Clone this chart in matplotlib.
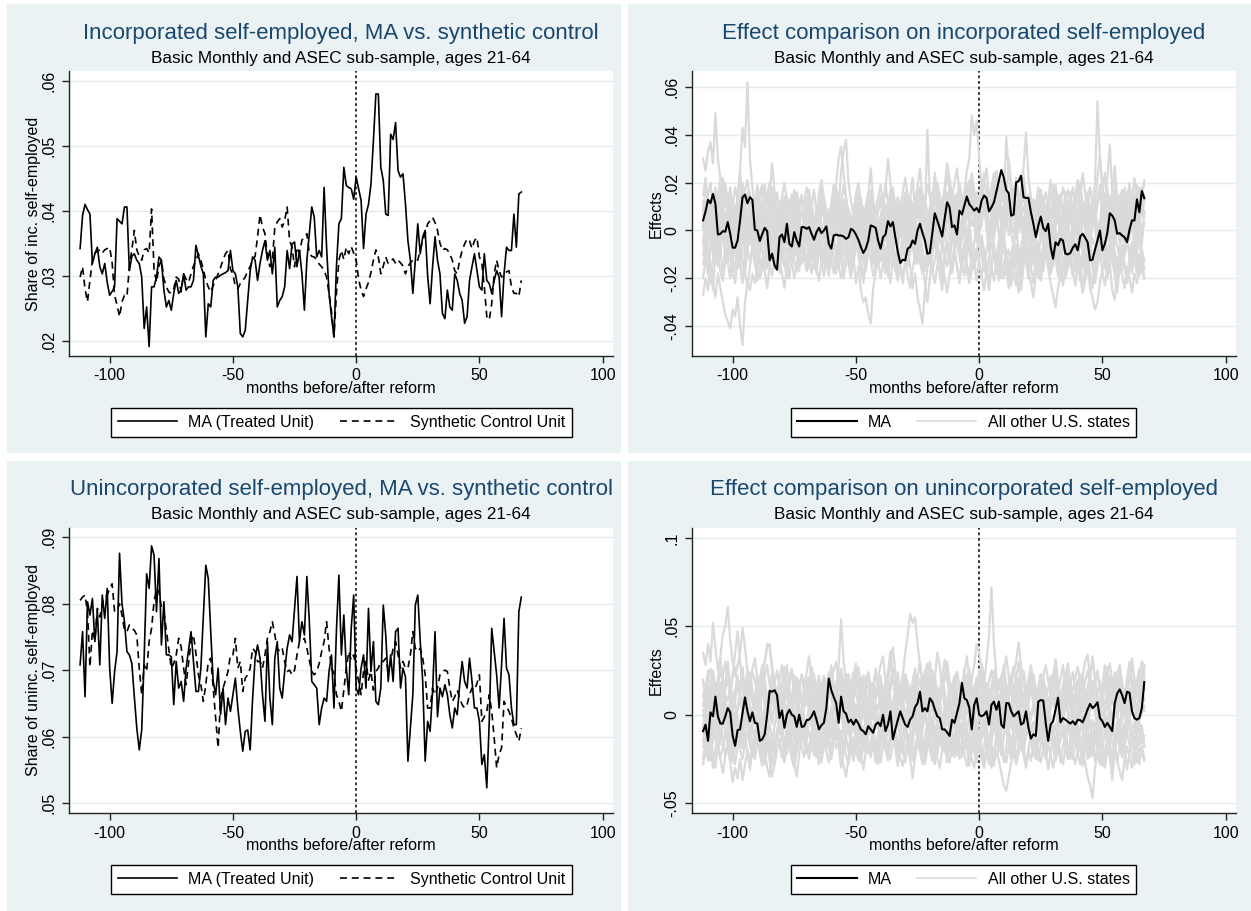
import numpy as np
import matplotlib.pyplot as plt
from matplotlib.patches import Rectangle
from matplotlib.lines import Line2D

plt.rcParams['font.family'] = ['Liberation Sans', 'DejaVu Sans']
plt.rcParams['lines.scale_dashes'] = False

months = np.arange(-112, 68)

# all values in thousandths (share * 1000)
inc_ma = [34.2, 39.3, 41, 40.2, 39.5, 31.9, 33.4, 34.4, 31.4, 30.3,
          31.9, 29, 27, 27.6, 28.3, 38.8, 38.4, 38, 40.6, 40.6,
          30.8, 33, 33.4, 32.4, 31.9, 29.8, 21.9, 25.2, 19.1, 28.3,
          28.3, 29.8, 32.9, 32.4, 27.8, 25.2, 26.2, 24.7, 27.3, 29.3,
          27.3, 27.8, 30.3, 27.8, 28.3, 28.3, 29.3, 34.7, 33.1, 31.5,
          30.3, 20.6, 25.7, 25.2, 29.3, 29.8, 29.8, 30.1, 30.3, 30.5,
          30.8, 33.9, 30.8, 30.3, 28.3, 21.1, 20.6, 21.6, 26.2, 30.8,
          32.9, 32.4, 29.3, 31.9, 33.9, 35.4, 32.4, 33.9, 30.3, 34.4,
          25.2, 26.2, 26.8, 28.3, 33.9, 31.1, 34.9, 35.2, 31.4, 33.9,
          30.3, 24.7, 32.4, 36.5, 40.6, 39, 32.9, 33.9, 32.9, 43.6,
          34.4, 27.3, 23.7, 20.6, 31.4, 38, 38.8, 46.7, 43.9, 43.6,
          43.4, 41.8, 45.2, 43.4, 41.6, 34.2, 39.5, 41, 44.1, 50.8,
          58, 58, 46.7, 44.7, 39.5, 39.3, 51.8, 51, 53.6, 46.2,
          45.2, 45.7, 41.1, 35.4, 32.4, 27.3, 32.4, 38, 33.4, 36,
          37, 30, 25.7, 31.4, 36, 32.4, 30.3, 24.2, 23.4, 27.8,
          25.2, 24.7, 30.3, 29.3, 27.3, 26.2, 22.7, 23.7, 29.3, 31.4,
          33.4, 30.8, 28.3, 27.8, 33.4, 29.3, 28.8, 27.3, 29.3, 30.8,
          29.8, 23.7, 30.3, 34.4, 33.9, 33.9, 39.5, 34.4, 42.6, 42.9]

inc_synth = [29.8, 31.4, 28, 26, 29.3, 32.4, 33.5, 33.8, 34, 33.5,
             34, 34.2, 34.4, 32, 27, 25.5, 23.7, 26, 27, 26.8,
             31.4, 34, 37, 34, 33, 32.4, 34, 34.2, 33.5, 40.3,
             31, 29, 31.5, 32.4, 29.5, 28.3, 27.5, 27.3, 28, 29.8,
             29.5, 27.5, 30.3, 29.5, 29, 30.3, 31.5, 32.4, 33.4, 32.4,
             31, 29.3, 28.3, 27.5, 28.5, 29.3, 30.3, 31.3, 32.5, 33.4,
             33.9, 31, 30.3, 28.3, 28, 28.8, 29.3, 29.8, 30.8, 31.4,
             32.5, 33, 36, 39.4, 37.5, 36.5, 33, 31.4, 32.4, 37.5,
             38.3, 38.8, 37.5, 38.5, 40.6, 35.4, 34.4, 31.4, 34.4, 33.5,
             35.5, 35.9, 36.5, 33.5, 33, 32.9, 32.4, 31.8, 31.4, 30.8,
             29.8, 27.3, 24.5, 20.6, 27.3, 32.4, 33.9, 32.5, 34.4, 33.4,
             34.5, 33.5, 32.4, 29.5, 27.8, 26.8, 28, 29, 30.5, 32.4,
             34, 32.9, 30.3, 31.5, 32.9, 31.9, 32.3, 32.6, 31.9, 32.4,
             32, 31.5, 30.3, 31.4, 32, 32.4, 32.6, 32.4, 34, 35.4,
             36.5, 38, 38.5, 39, 38.2, 37, 35, 33.9, 34.2, 34,
             33.4, 32.4, 30.8, 30.3, 32.4, 33.9, 34.9, 35.7, 35.4, 34.2,
             35.4, 35.9, 32.9, 31.9, 28.3, 23.7, 23.2, 25.7, 30.3, 32.4,
             30.8, 29.8, 30.3, 30.6, 30.8, 28.3, 27.3, 27.3, 26.8, 29.3]

uninc_ma = [70.8, 75.8, 66, 80.3, 78.3, 80.8, 74.3, 78.8, 70.8, 81.3,
            77.8, 82.3, 70.3, 65, 69.8, 72.8, 87.6, 80, 77.3, 72.8,
            72.3, 71, 66, 61.3, 58, 61, 72, 84.5, 82.3, 88.7,
            87.3, 78.8, 86.8, 73.8, 80.3, 72.3, 72.3, 72, 64.8, 71.3,
            67.3, 68.3, 65.3, 70.3, 73, 75.8, 71.3, 66.8, 66.8, 70.3,
            78, 85.8, 83.8, 75.8, 68.3, 66.3, 70.3, 63.3, 67.3, 61.8,
            65.8, 63.8, 66.3, 68.8, 64.3, 60.8, 57.8, 60.8, 61, 58,
            65.8, 71.8, 73.8, 71.8, 66.3, 62.3, 74.3, 65.8, 61.8, 71.8,
            74.3, 67.3, 65.8, 69.8, 73.3, 75.3, 74.3, 79.3, 84.1, 74.3,
            77.3, 75.3, 84.1, 77.3, 68.3, 67.8, 67.3, 61.8, 64.3, 65.8,
            65.3, 69.8, 72.3, 64.3, 76, 84.3, 72.3, 78.3, 70.3, 66.3,
            76.3, 81.3, 67.3, 66.3, 70.3, 72.3, 67.3, 79.3, 69.8, 74.3,
            65.3, 64.8, 67.3, 79.8, 75.3, 68.3, 72.3, 68.3, 75.8, 76.3,
            67.3, 70.3, 69, 56.3, 61.3, 66.3, 79.8, 81.3, 74.3, 68.3,
            56.3, 62.3, 60.8, 66.8, 75.8, 63, 67.3, 66, 67.8, 66.3,
            63.3, 61.3, 64.3, 63.3, 67.8, 71.3, 68.3, 67.3, 71.8, 68.3,
            64.3, 64.3, 62.3, 55.8, 57.3, 52.3, 62.3, 76.3, 72.8, 69.3,
            64.3, 70.8, 77.8, 70.3, 69.3, 64.3, 61.8, 61.8, 78.8, 81]

uninc_synth = [80.5, 81, 81.3, 78.8, 70.5, 76, 74.5, 79.3, 78, 80,
               81, 81.3, 82.3, 83, 78.8, 79, 80, 78.3, 76, 75.8,
               76.8, 76.3, 76, 75.3, 70.3, 66.3, 70.8, 69.8, 74.3, 76.3,
               80.3, 82.3, 81.8, 79.5, 78.8, 76, 73.3, 70.3, 71, 72.3,
               74.8, 73.5, 70.3, 67.8, 71, 74.3, 75.3, 72.5, 69.3, 67.8,
               65.3, 67.8, 71.3, 71.8, 67.3, 63, 58.3, 65.8, 67.3, 68.5,
               69.8, 72.3, 72.3, 74.8, 70.3, 71.3, 66.8, 68.8, 69.3, 70.3,
               73.3, 72.8, 71.3, 71.3, 70.3, 72.3, 74.8, 75.8, 77.3, 75.3,
               73.3, 72.8, 73.3, 71.3, 69.8, 70, 69.3, 70, 72.3, 74.3,
               74.3, 74.8, 73.3, 71.5, 69.8, 69.3, 69.8, 71, 72.8, 74.3,
               77.3, 73.3, 70.3, 69.5, 66.3, 65.3, 63.8, 67, 70.3, 72.8,
               71.5, 72.3, 70.3, 68.3, 66.3, 69.8, 71.3, 68.5, 69.8, 67,
               69.8, 70.3, 71.3, 71.3, 71.8, 69.8, 71.3, 73.3, 74.3, 72.3,
               70.3, 71.3, 70.3, 70.3, 72.3, 75.8, 73.3, 72.8, 73.3, 71.8,
               69.3, 64.3, 64.3, 67.3, 66.3, 67.3, 69.3, 69.8, 70, 69.8,
               67.3, 65.3, 66, 67, 65.8, 64.8, 64.3, 64.8, 66.3, 67.3,
               67, 68, 69.3, 62.3, 63, 63.8, 66.3, 63.8, 59.8, 55.3,
               57.3, 58.3, 65.3, 64.5, 63.8, 62.8, 61.3, 60.3, 59.3, 61.3]

eff_inc_ma = [4.2, 8, 12.8, 11.4, 15.3, 11.1, -1.7, -1.4, -0.3, -0.5,
              3.5, -1.4, -7.2, -7.2, -4.2, 4.2, 13.9, 15, 11.4, 13.9,
              12.8, 0.3, 0, -4.4, -1.5, 1.1, -0.3, -12.5, -9.7, -14.6,
              -16.4, -2.8, -1.7, -4.9, 2.8, -5.6, -6.7, -0.7, -4.2, -6.7,
              1.4, 1.4, 0.7, 1.4, -1.4, -3.9, -0.7, 1.1, -1.1, 0,
              1.7, -5.6, -7.6, -2.1, -1.7, -2.1, -2.1, -2.5, -3.5, -2.8,
              0.7, 0, -1.7, -3.9, -6.9, -9.4, -7.6, -4.2, 2.1, 1.7,
              1.1, -4.2, -7.6, -2.8, -1.7, 3.9, 1.7, 3.5, -2.8, -9,
              -13.6, -12.2, -12.5, -7.6, -6.9, -4.2, -5.6, 0, 2.8, -1,
              -4.2, -9.7, -9.4, -1, 7.2, 4.2, 1, -2.5, 5, 11.8,
              9.7, 1.4, 2.1, -1.7, 8.3, 6.7, 10.4, 14.2, 11, 9.7,
              8.3, 9.4, 7.6, 12.5, 14.6, 13.6, 8, 9.7, 11.8, 16.4,
              20.8, 25.3, 22, 16.9, 15.6, 6.2, 6.7, 20.1, 20.6, 22.9,
              13.9, 13.6, 13.6, 7.6, 2.8, -2.8, 2.1, 5.8, 1.1, -0.3,
              2.8, -6.9, -11.8, -4.9, -6.2, -3.5, -4.2, -9.7, -10, -9.4,
              -7.2, -5.8, -8.3, -2.5, -1.4, -3, -4.9, -12.5, -12.2, -8,
              -4.2, 0, -8.3, -5.6, -1, 7.2, 6.2, 4.2, -1.4, -1.1,
              -2.1, -2.8, -4.9, 0.3, 4.2, 4.2, 13, 7.6, 16.5, 13.5]

eff_uninc_ma = [-9.3, -5.6, -14.8, 1.3, -0.9, 10.2, -0.9, -5, -5, -1,
                3.7, 1.3, -12, -17.6, -8.7, -8.3, 1, 9.8, 1.9, -3.7,
                1.3, -4.6, -5, -14.8, -13.9, -11.1, 0, 13.5, 13, 13.9,
                11.1, -1.9, 2.4, -7.4, 0, 2.8, 0, -0.9, -6.9, 0,
                -6.9, -6.5, -3.1, -2.8, -1, 1.9, -2.8, -8.3, -6, -4.6,
                3.7, 20.4, 13.9, 10, 6.5, -4.6, 10.2, 1.9, 0.6, -4.3,
                -2.8, -5.6, -2.8, -5, -8.3, -9.3, -11.1, -6.5, -8.3, -10.2,
                -5.6, -4.3, -6.5, 0, -9.3, -5.6, 1.9, -13.9, -8.3, -3,
                1.9, -2, -5.6, -6.9, -2.8, -0.9, 4.3, 6.5, 13, 1.9,
                3.7, 1.9, 9.3, 7.4, 3, -0.9, -1.9, -8.3, -8.3, -10,
                -12, -2.8, -4.6, 1, 6.5, 18, 9.3, 8.3, 4, -8.3,
                5.6, 9.3, 0, -0.9, 0, 1.9, -5.6, 5.6, 7.4, 2.8,
                7.4, -5.6, -7.4, 6.5, 6.5, 1.9, -0.9, 0.5, 1.9, -5.6,
                -4.6, 1.9, -7.4, -13.5, -11.1, -12, 7.4, 8.3, 8, -4.6,
                -14.8, -5.6, -3.7, 3, 9.6, -4.3, -1.9, -2.8, -4, -5,
                -3.7, -5.6, -2.8, -3.1, -4.3, -0.9, 3, 6.1, 3.7, 5,
                7, -1.9, -3.7, -6.9, -4.6, -6.9, -9.3, 6.5, 12, 14.3,
                11.1, 6.5, 13, 12.4, 1.9, -1.9, -2.8, -1.9, 3.7, 18.5]

# placebo effects, other states (incorporated)
eff_inc_states = [
    [30, 25, 33, 37, 28, 49, 30, 22, 18, 12, 15, 8, 10, 5, 12, 25, 43, 35, 62, 30,
     18, 10, 14, 6, 12, 8, 15, 20, 12, 9, 5, 10, 2, 8, 14, 6, 3, 9, 12, 5,
     8, 2, -3, 6, 10, 4, 0, 7, 3, -2, 5, 9, 4, 12, 18, 10, 25, 33, 38, 20,
     12, 6, 9, 3, 8, 1, -4, 5, 10, 6, 3, 9, 14, 7, 2, 8, 12, 5, 1, 6,
     10, 4, 8, 15, 9, 3, 7, 12, 6, 2, 5, 42, 15, 8, 3, 10, 6, 1, 8, 12,
     7, 3, 9, 14, 20, 12, 16, 25, 30, 48, 40, 46, 30, 18, 12, 8, 15, 10, 5, 9,
     14, 20, 12, 39, 25, 16, 10, 6, 12, 18, 26, 41, 22, 14, 8, 12, 5, 9, 14, 7,
     3, 8, 12, 6, 10, 15, 8, 4, 9, 13, 7, 2, 6, 11, 5, 9, 14, 8, 12, 20,
     54, 30, 18, 12, 22, 36, 15, 9, 5, 11, 8, 14, 6, 10, 3, 9, 12, 7, 15, 21],
    [-27, -20, -25, -15, -22, -28, -18, -24, -30, -35, -38, -41, -33, -36, -28, -40, -48, -30, -22, -25,
     -18, -22, -15, -20, -12, -17, -24, -14, -10, -16, -12, -18, -8, -14, -20, -10, -6, -13, -17, -9,
     -14, -8, -11, -16, -6, -12, -18, -9, -4, -10, -15, -7, -12, -18, -10, -5, -13, -20, -14, -8,
     -16, -11, -22, -15, -25, -30, -28, -35, -39, -24, -18, -12, -20, -14, -8, -15, -22, -11, -17, -9,
     -14, -20, -12, -6, -15, -24, -18, -28, -33, -39, -25, -16, -10, -18, -12, -7, -14, -20, -11, -5,
     -13, -18, -9, -15, -22, -12, -6, -14, -19, -10, -16, -8, -13, -20, -11, -17, -24, -14, -9, -18,
     -12, -20, -15, -8, -16, -22, -13, -10, -18, -25, -15, -9, -17, -22, -28, -18, -12, -20, -14, -8,
     -16, -22, -27, -32, -24, -18, -12, -20, -15, -9, -17, -23, -14, -19, -26, -21, -15, -24, -28, -33,
     -30, -22, -16, -12, -20, -14, -25, -29, -18, -13, -19, -24, -15, -20, -26, -18, -22, -14, -17, -20],
    [3, -5, 8, 12, -2, 6, 15, 9, -4, 2, 10, 18, 7, -3, 5, 14, 20, 11, 4, -6,
     2, 9, 16, 6, -5, 3, 12, 19, 8, 0, -7, 4, 11, 2, -3, 8, 15, 6, -1, 9,
     13, 5, -4, 3, 10, 17, 7, -2, 6, 12, 4, -6, 1, 8, 14, 5, -3, 7, 11, 2,
     -5, 3, 9, 15, 6, -1, 4, 10, 3, -4, 2, 8, 13, 5, -2, 6, 12, 18, 9, 1,
     -3, 5, 11, 4, -6, 2, 9, 14, 7, 0, -4, 3, 10, 16, 8, 2, -5, 4, 11, 6,
     1, 9, 15, 7, -2, 5, 12, 20, 14, 6, 10, 16, 8, 2, 11, 18, 12, 5, -3, 4,
     9, 15, 22, 13, 6, 10, 17, 9, 3, 11, 18, 12, 6, -1, 5, 10, 3, -5, 2, 8,
     13, 6, -2, 4, 9, 15, 7, 1, 6, 12, 18, 10, 4, -3, 5, 11, 16, 8, 2, 7,
     13, 19, 9, 3, -4, 6, 12, 5, -1, 8, 14, 7, 2, 10, 16, 9, 3, 11, 18, 13],
    [-10, -4, -15, -8, 2, -6, -12, -3, 5, -7, -14, -5, 3, -9, -16, -8, 0, -11, -4, 6,
     -3, -12, -6, 4, -8, -15, -5, 1, -10, -3, 5, -6, -13, -2, 4, -9, -14, -6, 2, -5,
     -11, -3, 6, -4, -10, -16, -7, 0, -8, -2, 4, -7, -12, -5, 3, -6, -13, -8, -1, 5,
     -4, -10, -3, 6, -2, -9, -15, -6, 1, -7, -12, -4, 3, -5, -11, -2, 5, -6, -13, -7,
     0, 6, -3, -9, -4, 2, -8, -14, -5, 1, -6, -12, -3, 4, -7, -2, 5, -4, -10, -15,
     -8, -1, 4, -6, -11, -3, 5, -2, -9, -14, -5, 2, -4, -10, -17, -8, -2, 4, -6, -12,
     -4, 3, -7, -13, -20, -11, -5, 1, -8, -15, -9, -2, 4, -5, -12, -18, -8, -3, 3, -6,
     -13, -7, 0, -9, -16, -10, -4, 2, -7, -12, -5, 1, -6, -14, -9, -3, 4, -5, -11, -17,
     -10, -4, 2, -8, -13, -6, 0, -9, -15, -7, -2, 4, -5, -11, -18, -9, -3, 3, -8, -13],
    [15, 22, 8, -5, 10, 18, 3, -12, 5, 20, 12, -3, -15, 2, 14, 25, 9, -8, 4, 16,
     7, -10, -18, -4, 9, 19, 6, -7, 11, 3, -9, -16, -2, 12, 5, -6, 8, 17, 10, -3,
     -11, 1, 14, 7, -5, -13, 0, 11, 18, 8, -4, -12, 3, 15, 9, -2, 6, 13, 2, -8,
     -15, -6, 8, 16, 5, -7, 2, 10, 17, 6, -5, -14, -3, 9, 20, 11, 1, -9, 4, 14,
     7, -6, -12, 0, 13, 22, 8, -4, 6, 15, 3, -10, -5, 12, 24, 15, 4, -8, -2, 10,
     18, 6, -7, 3, 14, 9, -3, -11, 5, 16, 11, -2, 8, 21, 13, 2, -9, 4, 17, 25,
     14, 5, -6, 10, 30, 20, 8, -4, 3, 15, 24, 12, 1, -10, -3, 9, 18, 7, -6, 2,
     13, 21, 10, -2, -12, -5, 6, 16, 4, -8, 1, 12, 19, 8, -4, -15, -7, 5, 14, 3,
     -9, 2, 15, 24, 11, -3, 6, 17, 8, -5, 10, 18, 7, -4, 12, 22, 13, 2, -6, 8],
    [-20, -12, -5, -15, -25, -10, 0, -8, -18, -6, 4, -9, -17, -22, -11, -3, -14, -19, -7, 2,
     -5, -13, -21, -9, 1, -6, -16, -11, -2, -8, -15, -4, 3, -7, -14, -20, -10, -1, -9, -17,
     -6, 2, -4, -12, -18, -8, 0, -5, -13, -19, -10, -3, 5, -2, -11, -16, -7, 1, -6, -14,
     -20, -9, -1, 4, -5, -12, -17, -8, -2, -10, -16, -6, 3, -4, -13, -19, -11, -3, 2, -7,
     -15, -22, -12, -4, 3, -6, -14, -9, -1, -8, -17, -10, -2, 5, -3, -11, -18, -25, -13, -5,
     -9, -16, -7, 2, -4, -12, -19, -10, -3, -8, -14, -20, -11, -2, -9, -17, -22, -13, -6, -15,
     -21, -12, -5, -16, -24, -14, -8, -18, -26, -15, -7, -13, -20, -10, -2, -8, -15, -21, -12, -5,
     -11, -18, -9, -1, -7, -14, -23, -16, -8, -3, -10, -17, -12, -4, -9, -19, -13, -6, -15, -22,
     -14, -7, -2, -11, -18, -10, -4, -13, -20, -12, -6, -15, -22, -14, -8, -3, -12, -19, -11, -20],
    [2, -3, 5, 0, -6, 3, 7, 1, -4, 4, -2, 6, 1, -5, 3, 8, 2, -3, 5, -1,
     -6, 2, 7, 0, -4, 4, -2, 6, 3, -5, 1, 7, -1, -6, 3, 5, -3, 2, 8, 0,
     -5, 3, -2, 6, 1, -4, 4, 9, 2, -3, 5, 0, -6, 2, 7, 1, -5, 3, -1, 6,
     2, -4, 4, 8, 0, -5, 3, -2, 5, 1, -6, 2, 6, -1, -4, 4, 9, 3, -3, 2,
     7, 0, -5, 3, -2, 6, 1, -4, 5, 10, 4, -2, 3, 8, 2, -3, 6, 12, 5, 0,
     -4, 3, 7, 1, -5, 4, 9, 14, 6, 2, 8, 3, -2, 5, 11, 6, 0, -4, 3, 9,
     15, 8, 2, 6, 12, 5, -1, 4, 10, 3, -3, 2, 7, 0, -5, 3, 8, 2, -4, 1,
     6, -1, -6, 2, 5, -2, 4, 9, 3, -3, 1, 6, 0, -5, 3, 7, 1, -4, 2, 5,
     -1, 4, 8, 2, -3, 5, 0, -6, 2, 6, 1, -4, 3, 7, 0, -5, 2, 6, -2, 3],
    [10, 5, -2, 8, 14, 3, -6, 2, 11, 17, 6, -4, 1, 9, 13, 4, -3, 7, 15, 8,
     0, -7, 5, 12, 18, 9, 2, -5, 4, 11, 16, 7, -1, 6, 13, 3, -4, 8, 14, 5,
     -2, 3, 10, 17, 8, 1, -6, 4, 12, 6, -3, 5, 11, 19, 10, 2, -5, 7, 13, 4,
     -1, 6, 14, 8, 0, -7, 3, 11, 16, 7, 2, -4, 5, 12, 6, -2, 9, 15, 4, -3,
     1, 8, 13, 5, -4, 3, 10, 18, 26, 14, 6, 0, 7, 13, 4, -3, 5, 11, 17, 9,
     2, -5, 4, 10, 16, 8, 1, 7, 14, 21, 12, 5, 10, 17, 9, 3, 11, 18, 24, 14,
     8, 2, 9, 16, 11, 4, 12, 19, 10, 3, -4, 5, 11, 6, -2, 3, 9, 15, 7, 1,
     -5, 4, 10, 16, 8, 2, -3, 6, 12, 5, -1, 7, 14, 20, 11, 4, -2, 5, 13, 8,
     1, -4, 6, 12, 18, 9, 3, -2, 7, 14, 8, 2, 10, 16, 7, 1, 9, 15, 6, 12],
    [-5, -12, -18, -8, 0, -9, -15, -4, 3, -6, -13, -20, -10, -2, -7, -14, -22, -12, -3, 4,
     -4, -11, -6, 2, -8, -16, -9, -1, 5, -3, -10, -17, -7, 1, -5, -12, -4, 3, -6, -13,
     -8, -1, 6, -2, -9, -15, -5, 2, -7, -14, -4, 3, -6, -11, -18, -9, -2, 5, -4, -10,
     -16, -7, 0, -5, -12, -20, -11, -3, 4, -6, -13, -5, 2, -8, -14, -6, 1, -4, -11, -18,
     -9, -2, 4, -5, -10, -3, 5, -2, -8, -15, -22, -30, -20, -10, -3, -9, -16, -7, 0, -6,
     -12, -5, 2, -4, -11, -17, -8, -1, 3, -7, -14, -21, -12, -4, -10, -18, -25, -15, -7, -13,
     -20, -11, -3, -9, -16, -23, -14, -6, -12, -19, -10, -2, -8, -15, -22, -13, -5, -11, -17, -9,
     -3, 2, -5, -12, -19, -10, -4, -11, -16, -8, -1, -7, -14, -21, -12, -5, -10, -17, -24, -13,
     -6, -2, -9, -16, -11, -4, -12, -19, -26, -15, -8, -14, -20, -11, -5, -12, -18, -10, -16, -12],
    [8, 18, 12, 3, -4, 6, 14, 22, 10, 2, -6, 5, 13, 7, -1, 9, 16, 8, 0, -5,
     4, 11, 19, 12, 5, -2, 7, 15, 28, 16, 6, -1, 4, 10, 3, -5, 2, 8, 14, 6,
     -3, 5, 12, 7, 0, -6, 3, 9, 15, 9, 2, -4, 6, 13, 20, 30, 35, 24, 14, 6,
     -2, 5, 11, 4, -5, 2, 8, 15, 26, 13, 5, -3, 4, 10, 17, 30, 20, 9, 2, -4,
     3, 10, 16, 8, 1, -6, 4, 11, 18, 10, 3, -3, 5, 13, 20, 12, 4, 10, 18, 28,
     22, 14, 20, 26, 16, 8, 2, 9, 15, 24, 17, 9, 3, 11, 19, 26, 15, 7, 0, 8,
     14, 21, 12, 5, -2, 6, 13, 22, 15, 8, 1, 7, 13, 6, -1, 5, 11, 17, 10, 3,
     -4, 4, 12, 19, 9, 2, -5, 3, 10, 16, 8, 1, 7, 14, 24, 16, 6, -1, 5, 12,
     22, 31, 18, 8, 2, 9, 16, 27, 13, 5, -2, 6, 13, 20, 11, 4, 12, 18, 10, 15],
    [6, 12, 3, -2, 8, 14, 9, 1, -4, 5, 11, 16, 7, 0, 4, 10, 15, 6, -1, 3,
     9, 13, 5, -3, 2, 8, 14, 10, 2, -2, 5, 12, 7, 1, 6, 13, 8, 0, 4, 11,
     15, 7, 2, 8, 12, 4, -3, 3, 9, 14, 6, 0, 5, 11, 16, 9, 2, 7, 12, 5,
     -1, 4, 10, 15, 8, 1, 6, 13, 7, 0, 3, 9, 14, 6, -2, 4, 11, 16, 9, 2,
     7, 12, 5, -1, 3, 10, 15, 8, 1, 6, 13, 7, 0, 5, 11, 17, 9, 3, 8, 14,
     6, 1, 7, 12, 18, 10, 4, 9, 15, 8, 2, 6, 13, 19, 11, 5, 10, 16, 9, 3,
     8, 14, 20, 12, 6, 11, 17, 10, 4, 9, 15, 8, 2, 7, 13, 6, 0, 5, 11, 16,
     9, 3, 8, 14, 7, 1, 6, 12, 17, 10, 4, 9, 15, 8, 2, 7, 13, 18, 11, 5,
     10, 16, 9, 3, 8, 14, 7, 1, 6, 12, 17, 10, 4, 9, 15, 8, 3, 11, 16, 19],
    [-4, -10, -2, 3, -6, -12, -7, 0, -3, -9, -14, -6, 1, -4, -11, -5, 2, -2, -8, -13,
     -7, -1, -5, -12, -16, -9, -3, -7, -13, -6, 0, -4, -10, -15, -8, -2, -6, -11, -4, 1,
     -3, -9, -14, -7, -1, -5, -12, -6, 0, -4, -10, -16, -9, -3, -7, -13, -6, 1, -3, -9,
     -15, -8, -2, -6, -12, -5, 2, -2, -8, -14, -7, -1, -5, -11, -17, -10, -4, -8, -13, -6,
     0, -4, -10, -15, -8, -2, -6, -12, -5, 1, -3, -9, -14, -7, -1, -5, -11, -18, -10, -4,
     -8, -14, -7, -1, -5, -12, -6, 0, -4, -10, -16, -9, -3, -7, -13, -20, -12, -5, -9, -15,
     -8, -2, -6, -12, -18, -11, -4, -8, -14, -7, -1, -5, -11, -16, -9, -3, -7, -13, -6, 0,
     -4, -10, -15, -8, -2, -6, -12, -17, -10, -4, -8, -13, -6, 0, -4, -10, -16, -9, -3, -7,
     -12, -5, 1, -3, -9, -15, -8, -2, -6, -11, -17, -10, -4, -8, -14, -7, -1, -5, -12, -16],
    [12, 6, 15, 20, 10, 4, 9, 16, 22, 13, 7, 3, 11, 18, 12, 5, 10, 17, 21, 14,
     8, 2, 9, 15, 19, 11, 6, 13, 18, 10, 4, 8, 14, 20, 12, 7, 3, 10, 16, 11,
     5, 12, 18, 13, 6, 2, 9, 15, 21, 14, 8, 4, 11, 17, 10, 5, 12, 19, 13, 7,
     2, 8, 15, 20, 12, 6, 10, 16, 11, 4, 9, 14, 19, 11, 5, 10, 17, 12, 6, 3,
     10, 16, 22, 15, 8, 4, 11, 18, 13, 6, 12, 19, 14, 8, 13, 20, 15, 9, 16, 23,
     17, 11, 6, 13, 19, 14, 8, 15, 21, 16, 10, 5, 12, 18, 24, 15, 9, 14, 20, 13,
     7, 12, 18, 11, 5, 10, 16, 21, 13, 8, 3, 9, 15, 10, 4, 11, 17, 12, 6, 2,
     8, 14, 19, 11, 5, 12, 18, 13, 7, 3, 9, 15, 21, 14, 8, 4, 11, 17, 12, 6,
     13, 19, 12, 6, 2, 9, 16, 22, 14, 8, 4, 10, 16, 11, 6, 13, 19, 12, 7, 14],
    [-14, -8, -18, -22, -12, -6, -10, -17, -21, -13, -7, -11, -19, -14, -8, -4, -12, -18, -23, -15,
     -9, -5, -13, -20, -16, -10, -6, -14, -19, -11, -7, -12, -18, -24, -15, -9, -13, -20, -14, -8,
     -4, -11, -17, -12, -6, -10, -16, -21, -13, -8, -14, -19, -12, -5, -9, -15, -20, -14, -7, -11,
     -18, -13, -6, -10, -17, -22, -14, -8, -12, -19, -15, -9, -5, -12, -18, -13, -7, -11, -16, -21,
     -14, -8, -12, -19, -24, -16, -10, -6, -13, -18, -12, -7, -11, -17, -22, -15, -9, -14, -20, -26,
     -18, -12, -8, -15, -21, -14, -9, -16, -22, -17, -11, -7, -13, -19, -25, -17, -11, -15, -21, -14,
     -9, -13, -20, -15, -8, -12, -18, -23, -16, -10, -6, -11, -17, -12, -7, -14, -20, -15, -9, -5,
     -12, -18, -13, -8, -15, -21, -16, -10, -6, -13, -19, -14, -9, -16, -22, -17, -11, -7, -14, -20,
     -15, -10, -17, -23, -16, -11, -7, -13, -19, -14, -9, -15, -21, -16, -10, -6, -12, -18, -13, -16],
    [-6, 8, 14, 2, -10, -3, 9, 15, 4, -8, -13, 0, 11, 6, -5, -12, -2, 10, 16, 5,
     -7, -14, -1, 12, 7, -4, -11, 1, 13, 8, -3, -10, 2, 14, 9, -2, -9, 3, 15, 6,
     -6, -13, -1, 11, 4, -8, -14, 0, 12, 7, -4, -11, 2, 13, 5, -7, -12, 1, 10, 3,
     -9, -15, -3, 9, 14, 2, -10, -4, 8, 12, 1, -8, -13, 0, 11, 5, -6, -12, 2, 13,
     6, -5, -11, 3, 14, 7, -4, -10, 1, 12, 8, -3, -9, 4, 15, 9, -2, -8, 5, 16,
     10, -1, -7, 6, 17, 11, 0, -6, 7, 13, 3, -5, 8, 18, 12, 1, -8, 4, 15, 9,
     -2, -9, 6, 16, 10, -1, -7, 5, 14, 8, -3, -11, 2, 13, 6, -5, -12, 0, 11, 4,
     -7, -14, -2, 10, 15, 3, -9, -4, 8, 13, 2, -10, -5, 7, 12, 1, -11, -6, 6, 11,
     0, -12, -7, 5, 14, 4, -8, -3, 9, 15, 3, -9, -4, 8, 13, 2, -10, 1, 12, 6],
    [1, 4, 8, 11, 7, 2, -2, 3, 9, 12, 8, 3, -1, 4, 10, 13, 9, 4, 0, 5,
     11, 14, 10, 5, 1, 6, 12, 8, 3, -2, 2, 7, 13, 9, 4, 0, 5, 11, 7, 2,
     -3, 1, 6, 12, 8, 3, -1, 4, 10, 6, 1, -4, 0, 5, 11, 7, 2, -2, 3, 9,
     5, 0, -5, -1, 4, 10, 6, 1, -3, 2, 8, 4, -1, -6, -2, 3, 9, 5, 0, -4,
     1, 7, 3, -2, -7, -3, 2, 8, 4, -1, -5, 0, 6, 2, -3, 1, 7, 12, 8, 3,
     7, 13, 9, 4, 8, 14, 10, 5, 9, 15, 11, 6, 2, 7, 13, 9, 4, 0, 5, 11,
     15, 10, 5, 1, 6, 12, 8, 3, -1, 4, 10, 6, 1, -3, 2, 8, 4, -1, -5, 0,
     6, 2, -3, -7, -2, 4, 9, 5, 0, -4, 1, 7, 3, -2, -6, -1, 5, 10, 6, 1,
     -3, 2, 8, 4, -1, -5, 0, 6, 11, 7, 2, -2, 3, 9, 5, 0, 4, 10, 6, 8],
]

# placebo effects, other states (unincorporated)
eff_uninc_states = [
    [35, 28, 40, 30, 52, 38, 25, 33, 45, 50, 61, 42, 30, 22, 28, 35, 49, 38, 24, 18,
     26, 32, 20, 14, 22, 30, 38, 40, 28, 18, 12, 20, 28, 18, 10, 16, 24, 14, 8, 15,
     22, 12, 6, 14, 20, 10, 4, 12, 18, 9, 15, 24, 14, 8, 16, 28, 54, 30, 18, 10,
     17, 24, 12, 6, 14, 22, 10, 4, 12, 18, 9, 15, 22, 12, 5, 11, 18, 26, 16, 8,
     14, 22, 35, 45, 57, 52, 55, 40, 28, 18, 24, 14, 8, 16, 22, 12, 6, 14, 20, 30,
     18, 10, 16, 24, 14, 8, 15, 22, 12, 20, 28, 40, 35, 25, 18, 30, 45, 72, 40, 22,
     14, 20, 28, 16, 10, 18, 24, 30, 41, 28, 18, 12, 20, 27, 15, 9, 16, 23, 13, 8,
     15, 22, 12, 6, 14, 20, 28, 16, 10, 17, 24, 14, 8, 15, 22, 30, 34, 20, 12, 18,
     25, 14, 8, 16, 23, 12, 6, 14, 22, 28, 18, 10, 17, 25, 32, 20, 12, 22, 30, 28],
    [-28, -20, -26, -15, -22, -30, -18, -25, -33, -24, -17, -27, -38, -30, -36, -25, -37, -28, -20, -26,
     -18, -24, -15, -22, -29, -20, -12, -26, -35, -28, -20, -14, -22, -27, -18, -11, -19, -25, -16, -10,
     -18, -24, -14, -9, -17, -23, -13, -20, -27, -18, -11, -19, -25, -15, -8, -16, -22, -29, -35, -24,
     -16, -22, -13, -20, -27, -17, -10, -18, -24, -15, -21, -28, -18, -12, -20, -26, -16, -9, -17, -23,
     -14, -20, -27, -18, -11, -19, -25, -15, -21, -28, -19, -12, -20, -26, -17, -24, -30, -20, -14, -22,
     -27, -18, -11, -19, -25, -16, -22, -29, -20, -13, -21, -27, -17, -24, -30, -22, -15, -23, -29, -20,
     -26, -33, -40, -43, -35, -27, -20, -28, -22, -15, -23, -29, -20, -26, -18, -12, -21, -27, -19, -25,
     -17, -23, -30, -21, -14, -22, -28, -19, -25, -16, -22, -28, -20, -13, -21, -27, -35, -40, -47, -30,
     -22, -28, -19, -25, -17, -23, -29, -20, -26, -32, -37, -25, -18, -24, -30, -21, -27, -19, -22, -25],
    [12, 4, -3, 8, 16, 6, -2, 10, 18, 9, 1, -6, 5, 14, 22, 11, 3, -4, 7, 15,
     8, 0, -7, 4, 13, 20, 10, 2, -5, 6, 14, 7, -1, 9, 17, 5, -3, 8, 15, 4,
     -4, 6, 13, 21, 12, 3, -5, 7, 16, 9, 1, -6, 4, 11, 19, 8, 0, 6, 14, 23,
     13, 4, -3, 8, 15, 7, -1, 10, 18, 6, -2, 5, 12, 3, -5, 7, 14, 22, 11, 2,
     -4, 6, 13, 5, -3, 9, 17, 8, 0, 7, 15, 24, 12, 4, -3, 6, 13, 20, 9, 1,
     -5, 8, 16, 7, -2, 5, 12, 19, 10, 3, -4, 7, 14, 22, 11, 2, 9, 17, 6, -3,
     4, 12, 20, 9, 1, -6, 5, 13, 21, 10, 3, -4, 8, 15, 6, -2, 9, 16, 7, 0,
     -5, 6, 14, 23, 12, 4, -3, 8, 15, 5, -2, 7, 13, 20, 10, 1, -5, 6, 12, 18,
     9, 2, -4, 7, 15, 22, 11, 3, -2, 8, 16, 6, -1, 9, 17, 8, 2, 12, 20, 14],
    [-15, -6, -20, -10, 0, -12, -22, -8, 2, -9, -18, -25, -12, -3, -10, -19, -7, 1, -8, -16,
     -24, -13, -4, -11, -20, -9, 0, -7, -15, -23, -12, -2, -9, -17, -6, 2, -5, -13, -21, -10,
     -1, -8, -16, -24, -12, -4, -11, -19, -8, 0, -6, -14, -22, -11, -3, -10, -18, -7, 1, -9,
     -17, -26, -14, -5, -12, -20, -9, -1, -8, -15, -23, -12, -3, -10, -18, -7, 0, -6, -14, -21,
     -10, -2, -9, -17, -25, -13, -4, -11, -19, -8, 0, -7, -15, -22, -11, -3, -10, -18, -6, 1,
     -8, -16, -24, -13, -4, -12, -20, -9, -1, -7, -15, -23, -12, -3, -11, -19, -28, -16, -6, -13,
     -21, -10, -2, -9, -17, -25, -14, -5, -12, -20, -8, 0, -7, -15, -23, -12, -3, -10, -18, -7,
     1, -6, -14, -22, -11, -2, -9, -17, -25, -13, -4, -11, -19, -8, 0, -7, -15, -24, -13, -5,
     -12, -20, -9, -1, -8, -16, -26, -14, -4, -11, -19, -8, 0, -7, -15, -23, -12, -4, -10, -18],
    [20, 8, -5, 12, 25, 14, 2, -10, 6, 18, 30, 16, 4, -8, 3, 15, 27, 13, 0, -12,
     -2, 10, 22, 11, -3, -14, 1, 13, 24, 12, -1, -11, 4, 17, 28, 15, 3, -9, 6, 19,
     9, -4, -15, 0, 12, 23, 10, -2, 8, 20, 11, -3, -13, 2, 14, 26, 13, 1, -7, 5,
     17, 6, -6, 8, 21, 10, -3, -12, 3, 15, 26, 14, 2, -8, 7, 19, 9, -4, 11, 24,
     12, 0, -10, 4, 16, 7, -5, -14, 1, 13, 22, 10, -2, 9, 20, 35, 28, 15, 4, -6,
     7, 18, 10, -3, 5, 16, 26, 13, 1, -9, 4, 15, 24, 12, 0, -11, 3, 14, 25, 13,
     2, -8, 6, 17, 9, -4, 10, 21, 11, -1, -12, 2, 14, 25, 13, 1, -9, 5, 16, 8,
     -4, 9, 20, 31, 17, 5, -6, 7, 18, 10, -2, -13, 1, 12, 23, 11, -1, 8, 19, 9,
     -3, 6, 17, 28, 15, 3, -8, 5, 14, 24, 12, 1, -9, 6, 18, 8, -4, 10, 22, 15],
    [-25, -14, -5, -18, -30, -20, -9, -2, -13, -24, -16, -6, -19, -28, -17, -8, -1, -11, -22, -31,
     -20, -10, -3, -15, -26, -16, -7, -18, -29, -19, -9, -2, -12, -23, -14, -5, -17, -27, -35, -22,
     -12, -4, -15, -25, -16, -7, -19, -28, -18, -8, -1, -13, -24, -15, -6, -18, -30, -20, -10, -3,
     -14, -26, -17, -8, -20, -31, -21, -11, -4, -16, -27, -18, -9, -2, -13, -24, -15, -6, -19, -29,
     -20, -10, -3, -14, -25, -36, -23, -13, -5, -17, -28, -19, -9, -1, -12, -22, -14, -5, -16, -27,
     -18, -8, -2, -13, -24, -15, -6, -18, -29, -20, -11, -4, -15, -26, -17, -8, -19, -30, -21, -12,
     -5, -16, -27, -18, -9, -2, -14, -25, -16, -7, -19, -30, -20, -11, -4, -15, -26, -17, -8, -20,
     -31, -21, -12, -5, -16, -27, -18, -9, -2, -14, -25, -15, -6, -18, -29, -19, -10, -3, -15, -26,
     -16, -7, -19, -30, -20, -11, -4, -16, -27, -17, -8, -20, -31, -21, -12, -5, -17, -28, -18, -25],
    [3, -4, 6, -1, -7, 2, 8, 1, -5, 4, -2, 7, 0, -6, 3, 9, 2, -4, 5, -1,
     -8, 2, 6, -2, -5, 4, 10, 3, -3, 6, 0, -6, 3, 8, 1, -5, 4, -2, 7, 2,
     -4, 5, 11, 3, -3, 6, -1, -7, 2, 8, 1, -5, 4, 9, 2, -4, 6, 0, -6, 3,
     8, 1, -5, 4, -2, 7, 12, 4, -3, 5, -1, -7, 2, 9, 3, -4, 6, 0, -6, 3,
     10, 2, -4, 5, -1, 7, 13, 5, -2, 4, -3, 6, 0, -6, 3, 9, 2, -5, 4, -1,
     -7, 2, 8, 1, -5, 5, 11, 4, -3, 6, 0, -6, 3, 10, 2, -4, 5, -2, 7, 1,
     -5, 4, 9, 2, -4, 6, 0, -7, 3, 8, 1, -5, 4, -2, 7, 12, 4, -3, 5, -1,
     -6, 3, 9, 2, -4, 5, -1, 7, 1, -5, 4, 10, 2, -4, 6, 0, -6, 3, 8, 1,
     -5, 4, -2, 7, 12, 5, -3, 6, 0, -6, 3, 9, 2, -4, 5, 11, 3, -3, 6, 2],
    [18, 10, 4, 14, 24, 15, 6, 12, 22, 30, 19, 9, 3, 13, 21, 12, 5, 15, 25, 16,
     8, 2, 11, 20, 28, 17, 7, 13, 23, 14, 5, 10, 19, 27, 16, 8, 3, 12, 21, 13,
     6, 14, 24, 33, 20, 11, 4, 10, 18, 9, 2, 12, 22, 14, 6, 15, 26, 17, 8, 3,
     11, 20, 29, 18, 9, 4, 13, 23, 15, 7, 12, 21, 13, 5, 10, 19, 28, 38, 24, 14,
     6, 12, 22, 15, 7, 2, 11, 20, 30, 19, 10, 4, 13, 22, 14, 6, 12, 21, 31, 20,
     11, 5, 14, 24, 16, 8, 3, 12, 22, 14, 6, 11, 20, 29, 19, 10, 4, 13, 23, 15,
     8, 14, 24, 33, 21, 12, 5, 11, 20, 12, 4, 10, 19, 28, 17, 9, 3, 12, 21, 14,
     7, 13, 23, 15, 8, 2, 11, 20, 29, 18, 10, 5, 14, 23, 15, 7, 12, 22, 31, 20,
     11, 4, 10, 19, 27, 17, 8, 14, 24, 16, 9, 3, 12, 21, 30, 19, 10, 16, 25, 28],
    [-8, 2, -12, -20, -6, 4, -9, -17, -3, 6, -7, -15, -24, -11, -1, -10, -19, -5, 3, -8,
     -16, -25, -13, -2, -11, -20, -30, -35, -18, -6, 2, -7, -15, -4, 5, -6, -14, -22, -10, 0,
     -9, -17, -5, 4, -7, -16, -24, -12, -2, -10, -19, -8, 1, -6, -14, -3, 6, -5, -13, -21,
     -10, 0, -8, -17, -6, 3, -7, -15, -23, -11, -1, -9, -18, -7, 2, -6, -14, -4, 5, -5,
     -13, -22, -10, 0, -8, -16, -5, 4, -7, -15, -24, -12, -2, -10, -18, -6, 3, -6, -14, -21,
     -9, 1, -7, -16, -5, 4, -8, -17, -26, -14, -3, -11, -20, -9, 0, -8, -16, -4, 5, -6,
     -14, -23, -12, -1, -9, -18, -7, 3, -5, -13, -22, -11, -2, -10, -19, -8, 1, -7, -15, -4,
     5, -6, -14, -23, -12, -2, -10, -18, -7, 2, -6, -15, -4, 4, -8, -17, -25, -13, -3, -11,
     -20, -9, 1, -7, -16, -24, -37, -20, -8, -14, -22, -11, -1, -9, -17, -6, 3, -8, -16, -12],
    [5, 15, 25, 12, 0, 8, 20, 32, 18, 6, -4, 9, 22, 35, 47, 30, 15, 4, 11, 24,
     14, 2, -6, 7, 19, 30, 40, 38, 25, 12, 3, -5, 8, 20, 12, 1, 10, 22, 14, 4,
     -3, 9, 21, 13, 2, -6, 7, 18, 10, -1, 8, 19, 28, 16, 5, -4, 9, 20, 12, 2,
     -5, 8, 20, 12, 1, 10, 22, 15, 4, -3, 9, 21, 13, 3, 11, 24, 36, 22, 10, 2,
     -6, 7, 19, 11, 0, 9, 21, 14, 3, -5, 8, 20, 30, 18, 6, -3, 10, 22, 13, 2,
     -4, 9, 21, 12, 1, 10, 23, 33, 20, 8, -1, 7, 19, 28, 16, 5, -3, 9, 21, 12,
     2, 11, 24, 14, 4, -4, 8, 20, 30, 17, 6, -2, 10, 22, 13, 3, 11, 23, 14, 4,
     -3, 9, 21, 31, 18, 7, -2, 10, 22, 12, 2, -5, 8, 19, 11, 1, 9, 21, 33, 20,
     8, -1, 10, 22, 13, 3, 11, 24, 15, 5, -3, 9, 20, 30, 18, 7, 14, 24, 12, 26],
    [10, 16, 4, -2, 9, 18, 12, 3, 7, 15, 21, 11, 2, 8, 17, 10, 0, 6, 14, 20,
     9, 1, 7, 16, 22, 12, 4, 10, 18, 8, -1, 5, 13, 19, 11, 3, 9, 17, 7, -2,
     4, 12, 20, 10, 2, 8, 16, 22, 13, 5, 11, 19, 9, 1, 7, 15, 21, 12, 4, 10,
     18, 8, 0, 6, 14, 20, 11, 3, 9, 17, 23, 13, 5, 11, 19, 9, 1, 7, 15, 21,
     12, 4, 10, 18, 8, 0, 6, 14, 20, 11, 3, 9, 17, 25, 14, 6, 12, 20, 10, 2,
     8, 16, 22, 13, 5, 11, 19, 9, 1, 7, 15, 21, 12, 4, 10, 18, 8, 0, 6, 14,
     20, 11, 3, 9, 17, 23, 13, 5, 11, 19, 9, 1, 7, 15, 21, 12, 4, 10, 18, 8,
     0, 6, 14, 20, 11, 3, 9, 17, 24, 14, 6, 12, 20, 10, 2, 8, 16, 22, 13, 5,
     11, 19, 9, 1, 7, 15, 21, 12, 4, 10, 18, 8, 0, 6, 14, 20, 11, 5, 12, 22],
    [-6, -14, -20, -9, -2, -10, -18, -12, -4, -8, -16, -22, -13, -5, -11, -19, -9, -1, -7, -15,
     -21, -12, -4, -10, -18, -24, -14, -6, -12, -20, -10, -2, -8, -16, -22, -13, -5, -11, -19, -9,
     -1, -7, -15, -21, -12, -4, -10, -18, -24, -14, -6, -12, -20, -10, -2, -8, -16, -22, -13, -5,
     -11, -19, -9, -1, -7, -15, -21, -12, -4, -10, -18, -24, -14, -6, -12, -20, -10, -2, -8, -16,
     -22, -13, -5, -11, -19, -9, -1, -7, -15, -21, -12, -4, -10, -18, -26, -15, -7, -13, -21, -11,
     -3, -9, -17, -23, -14, -6, -12, -20, -10, -2, -8, -16, -22, -13, -5, -11, -19, -9, -1, -7,
     -15, -21, -12, -4, -10, -18, -24, -14, -6, -12, -20, -10, -2, -8, -16, -22, -13, -5, -11, -19,
     -9, -1, -7, -15, -21, -12, -4, -10, -18, -25, -15, -7, -13, -21, -11, -3, -9, -17, -23, -14,
     -6, -12, -20, -10, -2, -8, -16, -22, -13, -5, -11, -19, -9, -1, -7, -15, -21, -12, -6, -18],
    [18, 12, 22, 26, 15, 10, 17, 24, 19, 11, 8, 15, 23, 27, 18, 12, 20, 14, 9, 16,
     24, 19, 13, 8, 14, 22, 28, 17, 11, 18, 25, 16, 10, 7, 13, 21, 26, 15, 9, 17,
     23, 18, 12, 19, 27, 20, 13, 8, 15, 22, 17, 11, 18, 25, 30, 19, 12, 16, 23, 14,
     9, 15, 22, 27, 18, 11, 17, 24, 16, 10, 14, 21, 28, 33, 20, 13, 18, 25, 17, 11,
     8, 16, 23, 18, 12, 19, 26, 15, 10, 17, 24, 29, 19, 13, 20, 14, 9, 16, 22, 27,
     17, 11, 18, 24, 15, 9, 14, 21, 26, 16, 10, 17, 23, 28, 18, 12, 19, 25, 15, 11,
     16, 22, 14, 8, 15, 21, 27, 18, 12, 19, 25, 16, 10, 17, 23, 14, 9, 15, 22, 28,
     19, 13, 20, 26, 16, 10, 17, 24, 15, 9, 14, 21, 27, 18, 12, 19, 25, 16, 11, 18,
     24, 15, 10, 17, 23, 29, 19, 13, 20, 26, 17, 11, 18, 24, 16, 12, 19, 26, 21, 27],
    [-18, -12, -22, -26, -15, -10, -17, -24, -19, -11, -14, -21, -27, -18, -12, -20, -25, -16, -10, -17,
     -23, -14, -9, -16, -22, -28, -19, -13, -20, -15, -10, -17, -24, -19, -12, -18, -25, -30, -20, -14,
     -9, -15, -22, -17, -11, -18, -24, -16, -10, -15, -21, -27, -18, -12, -19, -14, -9, -16, -23, -28,
     -19, -13, -20, -26, -17, -11, -16, -22, -15, -9, -14, -21, -27, -18, -13, -20, -25, -17, -11, -18,
     -24, -29, -20, -14, -19, -26, -17, -12, -18, -23, -16, -10, -15, -22, -28, -19, -13, -20, -14, -9,
     -16, -23, -17, -11, -18, -24, -15, -10, -17, -25, -30, -20, -14, -19, -26, -18, -12, -17, -23, -16,
     -10, -15, -22, -27, -18, -13, -20, -14, -9, -16, -22, -28, -19, -13, -20, -25, -16, -11, -18, -24,
     -17, -12, -19, -26, -20, -14, -10, -17, -23, -15, -9, -16, -22, -28, -19, -13, -18, -24, -16, -11,
     -17, -23, -29, -20, -14, -19, -25, -17, -12, -18, -24, -16, -10, -17, -23, -28, -19, -14, -21, -26],
    [-8, 6, 16, 3, -12, -4, 10, 18, 5, -9, -15, 0, 13, 7, -6, -14, -1, 12, 19, 6,
     -8, -16, -2, 11, 17, 4, -10, -3, 9, 15, 2, -11, -5, 8, 16, 6, -7, -13, 1, 14,
     9, -4, -12, 3, 15, 10, -3, -10, 4, 17, 11, -2, -9, 5, 18, 12, -1, -8, 6, 14,
     3, -10, -4, 9, 20, 13, 0, -7, 7, 15, 4, -9, -15, -2, 12, 18, 5, -8, -3, 10,
     16, 3, -11, -5, 8, 17, 6, -7, -13, 1, 13, 9, -4, -12, 2, 15, 10, -3, -9, 5,
     18, 11, -2, -8, 6, 16, 4, -9, -15, -1, 12, 19, 7, -6, -12, 3, 14, 8, -5, -11,
     2, 16, 10, -3, -10, 4, 17, 11, -2, -8, 6, 15, 5, -8, -14, 0, 13, 7, -6, -13,
     -1, 12, 18, 6, -7, -2, 9, 15, 3, -10, -4, 8, 16, 5, -9, -15, -2, 11, 17, 4,
     -8, -3, 10, 18, 7, -6, -12, 1, 14, 9, -4, -11, 3, 15, 10, -3, -9, 5, 16, 8],
    [-1, 3, 7, 2, -4, -8, -3, 2, 6, 1, -5, -9, -4, 1, 5, 9, 4, -2, -6, -1,
     4, 8, 3, -3, -7, -2, 3, 7, 11, 6, 0, -5, -9, -4, 1, 5, 0, -6, -10, -5,
     0, 4, 8, 3, -3, -7, -2, 3, 7, 2, -4, -8, -12, -6, -1, 4, 8, 3, -3, -7,
     -2, 2, 6, 1, -5, -9, -4, 1, 5, 10, 5, -1, -5, 0, 4, 8, 3, -3, -7, -2,
     3, 7, 2, -4, -8, -3, 2, 6, 11, 6, 0, -4, 1, 5, 9, 4, -2, -6, -1, 4,
     8, 3, -3, -7, -11, -6, -1, 3, 7, 2, -4, -8, -3, 2, 6, 10, 5, -1, -5, 0,
     4, 8, 3, -3, -7, -2, 3, 7, 2, -4, -8, -13, -7, -2, 3, 7, 2, -4, -8, -3,
     2, 6, 11, 6, 0, -4, 1, 5, 9, 4, -2, -6, -1, 4, 8, 3, -3, -7, -12, -6,
     -1, 3, 7, 2, -4, -8, -3, 2, 6, 10, 5, -1, -5, 0, 4, 8, 3, -3, 1, 5],
]

for name, s in [('inc_ma', inc_ma), ('inc_synth', inc_synth), ('uninc_ma', uninc_ma),
                ('uninc_synth', uninc_synth), ('eff_inc_ma', eff_inc_ma),
                ('eff_uninc_ma', eff_uninc_ma)]:
    assert len(s) == len(months), (name, len(s))
for i, s in enumerate(eff_inc_states):
    assert len(s) == len(months), ('inc state', i, len(s))
for i, s in enumerate(eff_uninc_states):
    assert len(s) == len(months), ('uninc state', i, len(s))

BG = '#eaf2f3'
NAVY = '#1a476f'
GRAY = '#dadada'
FS = 11.5
W, H = 1251, 911

fig = plt.figure(figsize=(W / 100, H / 100), dpi=100)
fig.patch.set_facecolor('white')

# light panel backgrounds
for x0, y0, x1, y1 in [(7, 4, 621, 453), (628, 4, 1251, 453),
                       (7, 461, 621, 911), (628, 461, 1251, 911)]:
    fig.add_artist(Rectangle((x0 / W, 1 - y1 / H), (x1 - x0) / W, (y1 - y0) / H,
                             transform=fig.transFigure, facecolor=BG,
                             edgecolor='none', zorder=-5))


def make_axes(x0, y0, x1, y1):
    return fig.add_axes([x0 / W, 1 - y1 / H, (x1 - x0) / W, (y1 - y0) / H])


def style(ax, ylim, yticks, ylabels, ylabel):
    ax.set_xlim(-116.5, 104)
    ax.set_ylim(ylim)
    ax.set_xticks([-100, -50, 0, 50, 100])
    ax.set_xticklabels(['-100', '-50', '0', '50', '100'], fontsize=FS)
    ax.set_yticks(yticks)
    ax.set_yticklabels(ylabels, fontsize=FS, rotation=90, va='center')
    ax.yaxis.grid(True, color='#e3edef', lw=1.0, zorder=0)
    ax.set_axisbelow(True)
    for sp in ['top', 'right']:
        ax.spines[sp].set_visible(False)
    for sp in ['left', 'bottom']:
        ax.spines[sp].set_color('#222222')
        ax.spines[sp].set_linewidth(1.0)
    ax.tick_params(direction='out', length=5, width=1, color='#222222', pad=4)
    ax.set_xlabel('months before/after reform', fontsize=FS)
    ax.xaxis.set_label_coords(0.5, -0.088)
    ax.set_ylabel(ylabel, fontsize=FS)
    ax.yaxis.set_label_coords(-0.052, 0.5)
    ax.axvline(0, color='black', lw=1.1, dashes=(2, 2), zorder=1)


def titles(cx, ty, title):
    fig.text(cx / W, 1 - ty / H, title, ha='center', va='center',
             fontsize=16, color=NAVY)
    fig.text(cx / W, 1 - (ty + 25) / H, 'Basic Monthly and ASEC sub-sample, ages 21-64',
             ha='center', va='center', fontsize=12.3, color='black')


def legend(cx, cy, handles, labels):
    leg = fig.legend(handles, labels, loc='center', bbox_to_anchor=(cx / W, 1 - cy / H),
                     ncol=2, frameon=True, fancybox=False, edgecolor='black',
                     framealpha=1, fontsize=FS, handlelength=3.7, handletextpad=0.7,
                     columnspacing=1.6, borderpad=0.42, borderaxespad=0)
    leg.get_frame().set_linewidth(1.0)


m = months
solid_h = Line2D([], [], color='black', lw=1.2)
dash_h = Line2D([], [], color='black', lw=1.2, dashes=(5, 3.5))
ma_h = Line2D([], [], color='black', lw=1.5)
gray_h = Line2D([], [], color=GRAY, lw=1.2)

# top left
ax = make_axes(69, 71, 612.5, 356)
ax.plot(m, np.array(inc_ma) / 1000, color='black', lw=1.2, zorder=3)
ax.plot(m, np.array(inc_synth) / 1000, color='black', lw=1.2, dashes=(5, 3.5), zorder=3)
style(ax, (0.01765, 0.06154), [0.02, 0.03, 0.04, 0.05, 0.06],
      ['.02', '.03', '.04', '.05', '.06'], 'Share of inc. self-employed')
titles(341, 33, 'Incorporated self-employed, MA vs. synthetic control')
legend(341.5, 422.5, [solid_h, dash_h], ['MA (Treated Unit)', 'Synthetic Control Unit'])

# top right
ax = make_axes(692, 71, 1235.5, 356)
for s in eff_inc_states:
    ax.plot(m, np.array(s) / 1000, color=GRAY, lw=1.6, zorder=2)
ax.plot(m, np.array(eff_inc_ma) / 1000, color='black', lw=1.5, zorder=3)
style(ax, (-0.0525, 0.0667), [-0.04, -0.02, 0, 0.02, 0.04, 0.06],
      ['-.04', '-.02', '0', '.02', '.04', '.06'], 'Effects')
titles(963.5, 33, 'Effect comparison on incorporated self-employed')
legend(963.5, 422.5, [ma_h, gray_h], ['MA', 'All other U.S. states'])

# bottom left
ax = make_axes(69, 528, 612.5, 813)
ax.plot(m, np.array(uninc_ma) / 1000, color='black', lw=1.2, zorder=3)
ax.plot(m, np.array(uninc_synth) / 1000, color='black', lw=1.2, dashes=(5, 3.5), zorder=3)
style(ax, (0.0485, 0.0914), [0.05, 0.06, 0.07, 0.08, 0.09],
      ['.05', '.06', '.07', '.08', '.09'], 'Share of uninc. self-employed')
titles(341, 490, 'Unincorporated self-employed, MA vs. synthetic control')
legend(341.5, 879.5, [solid_h, dash_h], ['MA (Treated Unit)', 'Synthetic Control Unit'])

# bottom right
ax = make_axes(692, 528, 1235.5, 813)
for s in eff_uninc_states:
    ax.plot(m, np.array(s) / 1000, color=GRAY, lw=1.6, zorder=2)
ax.plot(m, np.array(eff_uninc_ma) / 1000, color='black', lw=1.5, zorder=3)
style(ax, (-0.0556, 0.1056), [-0.05, 0, 0.05, 0.1],
      ['-.05', '0', '.05', '.1'], 'Effects')
titles(963.5, 490, 'Effect comparison on unincorporated self-employed')
legend(963.5, 879.5, [ma_h, gray_h], ['MA', 'All other U.S. states'])

fig.savefig('out.png', dpi=100, facecolor=fig.get_facecolor())
